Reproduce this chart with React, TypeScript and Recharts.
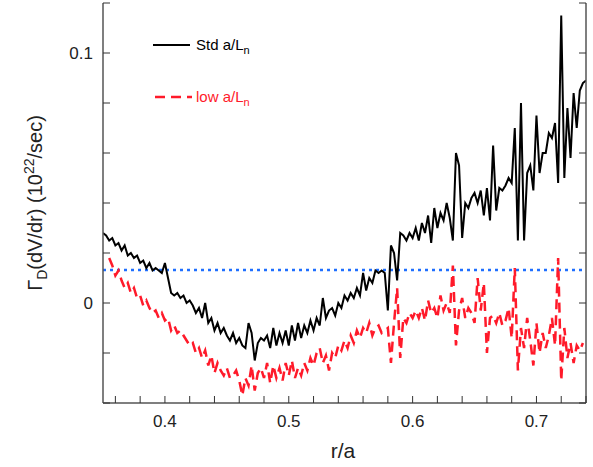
import React from 'react';
import { LineChart, Line, XAxis, YAxis, ReferenceLine } from 'recharts';

document.body.style.margin = '0';

const STEP = 0.0025;
const STD_START = 0.35;
const LOW_START = 0.355;
const THRESHOLD = 0.0132;

const stdValues = [
  0.028, 0.027, 0.025, 0.026, 0.023, 0.024, 0.021, 0.023, 0.019, 0.02,
  0.018, 0.019, 0.016, 0.017, 0.014, 0.016, 0.013, 0.014, 0.013, 0.012,
  0.016, 0.01, 0.004, 0.003, 0.004, 0.002, 0.003, 0.0, 0.001, -0.001,
  -0.004, -0.002, -0.006, 0.0, -0.008, -0.006, -0.011, -0.008, -0.012, -0.01,
  -0.013, -0.015, -0.012, -0.016, -0.014, -0.017, -0.018, -0.008, -0.012, -0.023,
  -0.016, -0.014, -0.015, -0.013, -0.018, -0.01, -0.017, -0.012, -0.016, -0.011,
  -0.017, -0.009, -0.015, -0.008, -0.014, -0.009, -0.012, -0.007, -0.011, -0.006,
  -0.009, 0.002, -0.006, -0.003, -0.002, -0.005, 0.0, -0.002, 0.003, 0.001,
  0.004, 0.002, 0.006, 0.003, 0.012, 0.005, 0.01, 0.008, 0.013, 0.012,
  0.013, 0.012, -0.003, 0.023, 0.02, 0.009, 0.028, 0.027, 0.025, 0.028,
  0.026, 0.03, 0.025, 0.032, 0.028, 0.035, 0.024, 0.038, 0.03, 0.036,
  0.033, 0.04, 0.034, 0.025, 0.06, 0.055, 0.026, 0.04, 0.038, 0.042,
  0.044, 0.04, 0.045, 0.035, 0.046, 0.033, 0.063, 0.037, 0.046, 0.045,
  0.047, 0.05, 0.048, 0.07, 0.025, 0.08, 0.025, 0.052, 0.055, 0.045,
  0.075, 0.052, 0.06, 0.06, 0.068, 0.066, 0.072, 0.048, 0.115, 0.05,
  0.078, 0.058, 0.084, 0.07, 0.085, 0.088, 0.089,
];

const lowValues = [
  0.018, 0.015, 0.011, 0.013, 0.009, 0.006, 0.008, 0.004, 0.006, 0.002,
  0.003, -0.001, 0.001, -0.002, -0.004, -0.003, -0.006, -0.004, -0.007, -0.006,
  -0.011, -0.009, -0.012, -0.011, -0.013, -0.015, -0.017, -0.016, -0.02, -0.018,
  -0.022, -0.019, -0.025, -0.021, -0.028, -0.024, -0.027, -0.029, -0.026, -0.03,
  -0.029, -0.027, -0.031, -0.037, -0.03, -0.033, -0.025, -0.035, -0.028, -0.026,
  -0.03, -0.024, -0.032, -0.025, -0.03, -0.026, -0.031, -0.024, -0.029, -0.023,
  -0.03, -0.026, -0.029, -0.024, -0.027, -0.022, -0.025, -0.02, -0.018, -0.024,
  -0.021, -0.027, -0.02, -0.022, -0.017, -0.019, -0.015, -0.018, -0.013, -0.016,
  -0.011, -0.014, -0.01, -0.012, -0.008, -0.013, -0.01, -0.009, -0.012, -0.011,
  -0.01, -0.024, -0.008, 0.006, -0.022, -0.006, -0.008, -0.004, -0.006, -0.003,
  -0.006, -0.002, -0.007, 0.001, -0.004, -0.002, -0.006, 0.003, -0.003, 0.0,
  -0.004, 0.015, -0.017, -0.003, 0.002, -0.006, -0.002, -0.004, -0.008, 0.01,
  -0.003, 0.008, -0.02, -0.006, -0.005, -0.008, -0.004, -0.009, -0.007, -0.002,
  -0.014, 0.014, -0.027, -0.01, -0.018, -0.006, -0.015, -0.025, -0.008, -0.02,
  -0.012, -0.018, -0.013, -0.006, -0.017, 0.018, -0.031, -0.01, -0.022, -0.016,
  -0.024, -0.017, -0.019, -0.016,
];

const xTicks = [0.36, 0.38, 0.4, 0.42, 0.44, 0.46, 0.48, 0.5, 0.52, 0.54, 0.56, 0.58, 0.6, 0.62, 0.64, 0.66, 0.68, 0.7, 0.72, 0.74];
const xLabels = ['0.4', '0.5', '0.6', '0.7'];
const yTicks = [-0.04, -0.02, 0, 0.02, 0.04, 0.06, 0.08, 0.1, 0.12];
const yLabels = ['0', '0.1'];

const toPoints = (start: number, values: number[]) =>
  values.map((v, i) => ({ r: +(start + i * STEP).toFixed(4), v }));

const stdData = toPoints(STD_START, stdValues);
const lowData = toPoints(LOW_START, lowValues);

const FONT = 'Liberation Sans, Arial, sans-serif';
const fmt = (v: number) => String(+v.toFixed(2));

const BottomTick = (props: any) => {
  const { x, y, payload } = props;
  const label = fmt(payload.value);
  return (
    <g>
      <line x1={x} x2={x} y1={y} y2={y - 7} stroke="#333" strokeWidth={1} />
      {xLabels.includes(label) && (
        <text x={x} y={y + 24} textAnchor="middle" fontSize={17} fontFamily={FONT} fill="#222">{label}</text>
      )}
    </g>
  );
};

const TopTick = (props: any) => (
  <line x1={props.x} x2={props.x} y1={props.y} y2={props.y + 7} stroke="#333" strokeWidth={1} />
);

const LeftTick = (props: any) => {
  const { x, y, payload } = props;
  const label = fmt(payload.value);
  return (
    <g>
      <line x1={x} x2={x + 7} y1={y} y2={y} stroke="#333" strokeWidth={1} />
      {yLabels.includes(label) && (
        <text x={x - 10} y={y + 6} textAnchor="end" fontSize={17} fontFamily={FONT} fill="#222">{label}</text>
      )}
    </g>
  );
};

const RightTick = (props: any) => (
  <line x1={props.x} x2={props.x - 7} y1={props.y} y2={props.y} stroke="#333" strokeWidth={1} />
);

export default function App() {
  return (
    <div style={{ position: 'relative', width: 593, height: 467, background: '#fff' }}>
      <LineChart width={593} height={467} margin={{ top: 3, right: 0, left: 0, bottom: 0 }}>
        <XAxis xAxisId="b" dataKey="r" type="number" domain={[0.35, 0.74]} ticks={xTicks} allowDataOverflow interval={0}
          tick={<BottomTick />} tickSize={0} tickMargin={0} tickLine={false} height={64} stroke="#555" strokeWidth={1.5} />
        <XAxis xAxisId="t" orientation="top" dataKey="r" type="number" domain={[0.35, 0.74]} ticks={xTicks} allowDataOverflow interval={0}
          tick={<TopTick />} tickSize={0} tickMargin={0} tickLine={false} height={0} stroke="#555" strokeWidth={1.5} />
        <YAxis yAxisId="l" type="number" domain={[-0.04, 0.12]} ticks={yTicks} allowDataOverflow interval={0}
          tick={<LeftTick />} tickSize={0} tickMargin={0} tickLine={false} width={103} stroke="#555" strokeWidth={1.5} />
        <YAxis yAxisId="r" orientation="right" type="number" domain={[-0.04, 0.12]} ticks={yTicks} allowDataOverflow interval={0}
          tick={<RightTick />} tickSize={0} tickMargin={0} tickLine={false} width={7} stroke="#555" strokeWidth={1.5} />
        <ReferenceLine xAxisId="b" yAxisId="l" y={THRESHOLD} stroke="#1f6fff" strokeWidth={2.5} strokeDasharray="3 4" />
        <Line xAxisId="b" yAxisId="l" data={lowData} dataKey="v" stroke="#ff1a2a" strokeWidth={2.5}
          strokeDasharray="10 6" dot={false} isAnimationActive={false} />
        <Line xAxisId="b" yAxisId="l" data={stdData} dataKey="v" stroke="#000" strokeWidth={2}
          dot={false} isAnimationActive={false} />
      </LineChart>
      <svg width={593} height={467} style={{ position: 'absolute', left: 0, top: 0, pointerEvents: 'none' }}>
        <line x1={153} x2={190} y1={45} y2={45} stroke="#000" strokeWidth={2} />
        <text x={196} y={50} fontSize={15} fontFamily={FONT} fill="#000">
          Std a/L<tspan fontSize={11} dy={4}>n</tspan>
        </text>
        <line x1={155} x2={192} y1={97} y2={97} stroke="#ff1a2a" strokeWidth={2.5} strokeDasharray="10 6" />
        <text x={196} y={102} fontSize={15} fontFamily={FONT} fill="#ff1a2a">
          low a/L<tspan fontSize={11} dy={4}>n</tspan>
        </text>
        <text x={343} y={458} textAnchor="middle" fontSize={21} fontFamily={FONT} fill="#222">r/a</text>
        <text transform="translate(42,203) rotate(-90)" textAnchor="middle" fontSize={20} fontFamily={FONT} fill="#222">
          Γ<tspan fontSize={14} dy={5}>D</tspan><tspan dy={-5}>(dV/dr) (10</tspan><tspan fontSize={14} dy={-8}>22</tspan><tspan dy={8}>/sec)</tspan>
        </text>
      </svg>
    </div>
  );
}
